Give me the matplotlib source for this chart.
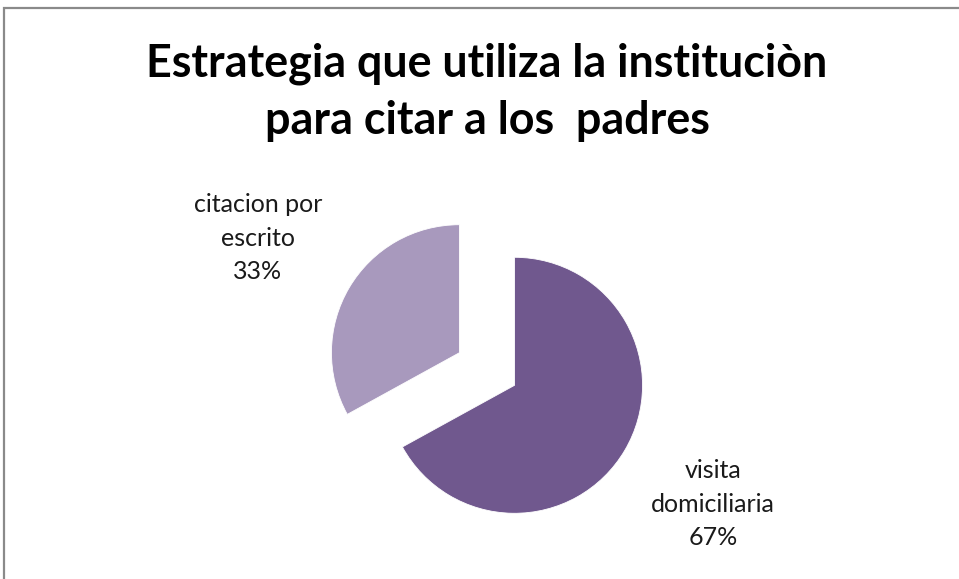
import matplotlib.pyplot as plt
from matplotlib.patches import Rectangle

labels = ["visita\ndomiciliaria", "citacion por\nescrito"]
values = [67, 33]
colors = ["#70588e", "#a899bd"]
title = "Estrategia que utiliza la instituciòn\npara citar a los  padres"

W, H = 959, 579
R = 128
fig = plt.figure(figsize=(W / 100, H / 100), dpi=100)
ax = fig.add_axes([0, 0, 1, 1])

# explode is given in data units, so scale it by the radius
wedges, _ = ax.pie(values, colors=colors, startangle=90, counterclock=False,
                   center=(487, H - 369), radius=R, explode=[0.25 * R] * 2,
                   wedgeprops=dict(edgecolor="white", linewidth=0.6))

# pie() resets the limits, so put the pixel-sized frame back afterwards
ax.set_xlim(0, W)
ax.set_ylim(0, H)
ax.set_aspect("equal")
ax.axis("off")

# chart area frame (only top and left edges fall inside the canvas)
fig.patches.append(Rectangle((4 / W, -0.1), 1.2, (H - 8) / H + 0.1,
                             transform=fig.transFigure, fill=False,
                             edgecolor="#8a8a8a", linewidth=1.6))

# data labels outside the slices
pct = [f"{v}%" for v in values]
ax.text(713, H - 504, f"{labels[0]}\n{pct[0]}", ha="center", va="center",
        fontsize=18, family="Lato", color="#1a1a1a", linespacing=1.55)
ax.text(258, H - 238, f"{labels[1]}\n{pct[1]}", ha="center", va="center",
        fontsize=18, family="Lato", color="#1a1a1a", linespacing=1.55)

ax.text(487, H - 92, title, ha="center", va="center", fontsize=32.3,
        fontweight="bold", family="Lato", color="black", linespacing=1.45)

fig.savefig("out.png", dpi=100)
